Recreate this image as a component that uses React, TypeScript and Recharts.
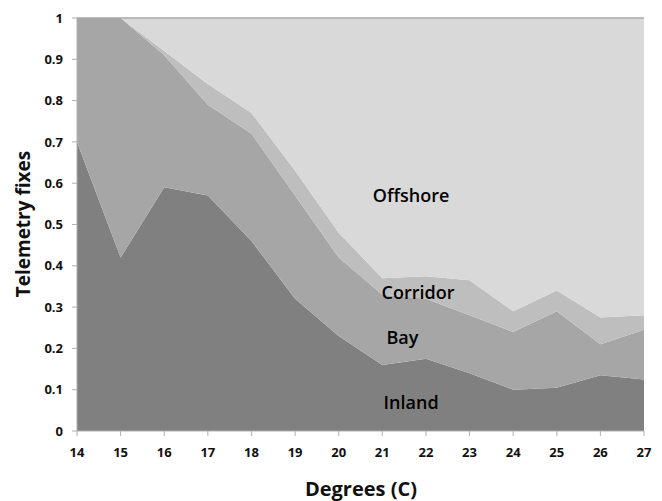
import React from 'react';
import { AreaChart, Area, XAxis, YAxis, ReferenceLine, ReferenceDot, Label } from 'recharts';

const degrees = [14, 15, 16, 17, 18, 19, 20, 21, 22, 23, 24, 25, 26, 27];
const inland = [0.7, 0.42, 0.59, 0.57, 0.46, 0.32, 0.23, 0.16, 0.175, 0.14, 0.1, 0.105, 0.135, 0.125];
const bay = [0.3, 0.58, 0.32, 0.22, 0.26, 0.25, 0.19, 0.17, 0.145, 0.14, 0.14, 0.185, 0.075, 0.12];
const corridor = [0, 0, 0.01, 0.05, 0.05, 0.06, 0.06, 0.04, 0.055, 0.085, 0.05, 0.05, 0.065, 0.035];
const offshore = [0, 0, 0.08, 0.16, 0.23, 0.37, 0.52, 0.63, 0.625, 0.635, 0.71, 0.66, 0.725, 0.72];
const yTicks = [0, 0.1, 0.2, 0.3, 0.4, 0.5, 0.6, 0.7, 0.8, 0.9, 1];
const areaLabels = [
  { name: 'Offshore', x: 21.66, y: 0.571 },
  { name: 'Corridor', x: 21.82, y: 0.334 },
  { name: 'Bay', x: 21.46, y: 0.225 },
  { name: 'Inland', x: 21.66, y: 0.068 },
];

const data = degrees.map((d, i) => ({
  deg: d,
  Inland: inland[i],
  Bay: bay[i],
  Corridor: corridor[i],
  Offshore: offshore[i],
}));

const FONT = '"Open Sans", "Noto Sans", sans-serif';
const tickStyle = { fontFamily: FONT, fontSize: 13, fontWeight: 700, fill: '#111' };

export default function App() {
  return (
    <div style={{ position: 'absolute', left: 0, top: 0, width: 662, height: 501, background: '#fff' }}>
      <AreaChart width={662} height={501} data={data} margin={{ top: 18, right: 18, bottom: 0, left: 0 }}>
        <XAxis
          dataKey="deg"
          type="number"
          domain={[14, 27]}
          ticks={degrees}
          height={70}
          tickSize={5}
          tickMargin={12}
          stroke="#b0b0b0"
          tick={tickStyle}
          interval={0}
        >
          <Label
            content={() => (
              <text x={361} y={488} textAnchor="middle" dominantBaseline="central"
                style={{ fontFamily: FONT, fontSize: 20, fontWeight: 700 }} fill="#111">
                Degrees (C)
              </text>
            )}
          />
        </XAxis>
        <YAxis
          type="number"
          domain={[0, 1]}
          ticks={yTicks}
          width={77}
          tickSize={5}
          tickMargin={9}
          stroke="#b0b0b0"
          tick={tickStyle}
          interval={0}
        >
          <Label
            content={() => (
              <text x={23} y={224} textAnchor="middle" dominantBaseline="central"
                transform="rotate(-90 23 224)"
                style={{ fontFamily: FONT, fontSize: 19, fontWeight: 700 }} fill="#111">
                Telemetry fixes
              </text>
            )}
          />
        </YAxis>
        <Area type="linear" dataKey="Inland" stackId="1" fill="#808080" stroke="none" fillOpacity={1} isAnimationActive={false} />
        <Area type="linear" dataKey="Bay" stackId="1" fill="#a6a6a6" stroke="none" fillOpacity={1} isAnimationActive={false} />
        <Area type="linear" dataKey="Corridor" stackId="1" fill="#bebebe" stroke="none" fillOpacity={1} isAnimationActive={false} />
        <Area type="linear" dataKey="Offshore" stackId="1" fill="#d9d9d9" stroke="none" fillOpacity={1} isAnimationActive={false} />
        <ReferenceLine y={1} stroke="#a8a8a8" strokeWidth={1.5} />
        {areaLabels.map((l) => (
          <ReferenceDot
            key={l.name}
            x={l.x}
            y={l.y}
            r={0}
            fill="none"
            stroke="none"
            ifOverflow="visible"
            label={{ value: l.name, position: 'center', fill: '#000', fontSize: 18, fontWeight: 600, fontFamily: FONT }}
          />
        ))}
      </AreaChart>
    </div>
  );
}
